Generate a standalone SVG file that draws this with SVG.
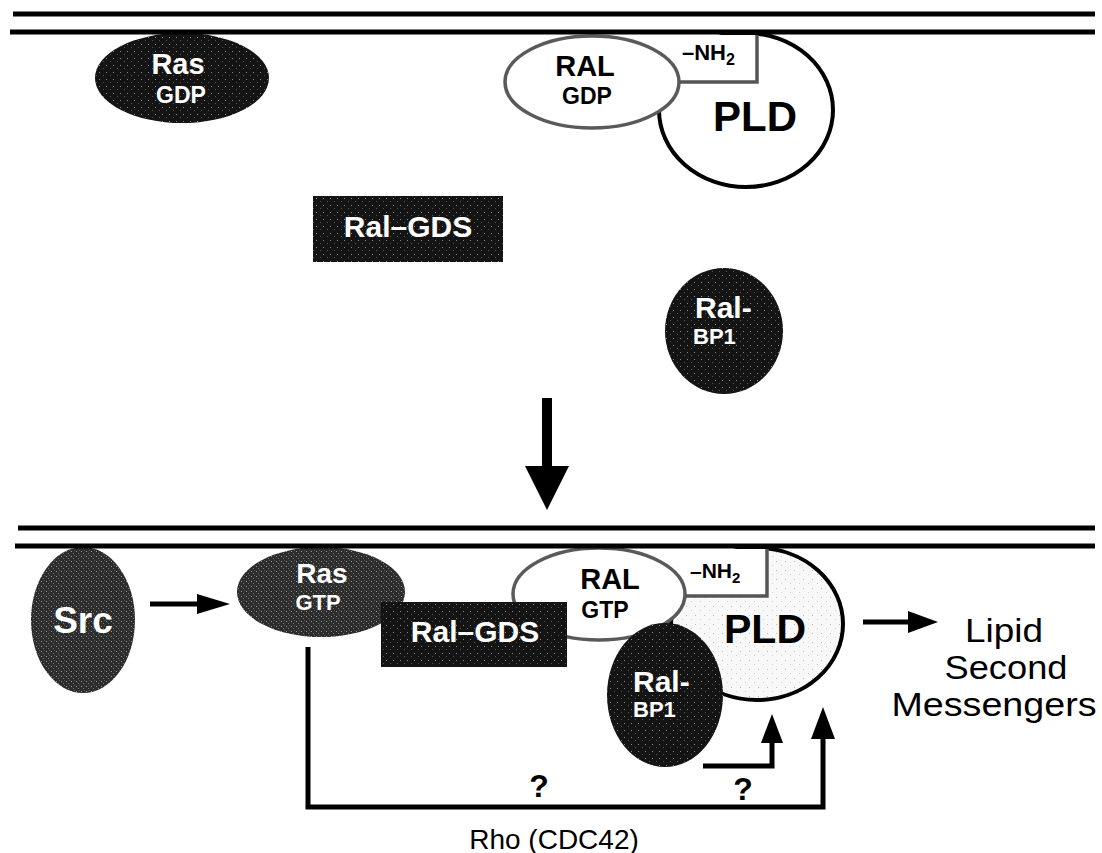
<svg xmlns="http://www.w3.org/2000/svg" width="1102" height="853" viewBox="0 0 1102 853">
<defs>
<pattern id="stipDark" width="7" height="7" patternUnits="userSpaceOnUse"><rect width="7" height="7" fill="#141414"/><rect x="1" y="2" width="1" height="1" fill="#8a8a8a"/><rect x="5" y="5" width="1" height="1" fill="#555"/></pattern>
<pattern id="stipGray" width="5" height="5" patternUnits="userSpaceOnUse"><rect width="5" height="5" fill="#2c2c2c"/><rect x="1" y="1" width="1" height="1" fill="#9a9a9a"/><rect x="3" y="3" width="1" height="1" fill="#777"/><rect x="4" y="0" width="1" height="1" fill="#5a5a5a"/></pattern>
<pattern id="stipLight" width="9" height="9" patternUnits="userSpaceOnUse"><rect width="9" height="9" fill="#f8f8f8"/><rect x="2" y="3" width="1" height="1" fill="#bbb"/><rect x="7" y="7" width="1" height="1" fill="#d0d0d0"/></pattern>
</defs>
<style>
.t{font-family:"Liberation Sans",Arial,sans-serif;font-weight:bold;fill:#fff;text-anchor:middle}
.tl{font-family:"Liberation Sans",Arial,sans-serif;font-weight:bold;fill:#fff}
.b{font-family:"Liberation Sans",Arial,sans-serif;font-weight:bold;fill:#000;text-anchor:middle}
.n{font-family:"Liberation Sans",Arial,sans-serif;fill:#000;text-anchor:middle}
.mem{stroke:#000;stroke-width:5;fill:none}
.ral{fill:#fff;stroke:#5a5a5a;stroke-width:3.5}
.pld{stroke:#000;stroke-width:4}
.ln{stroke:#000;stroke-width:5;fill:none}
.hd{fill:#000}
</style>
<rect width="1102" height="853" fill="#fff"/>

<g id="top-PLD">
<ellipse cx="746" cy="110" rx="87" ry="77" fill="#fff" class="pld"/>
<text class="b" x="755" y="131" font-size="42">PLD</text>
</g>
<g id="top-NH2">
<rect x="670" y="35" width="87" height="47" fill="#fff"/>
<path d="M757,35 V82 H670" fill="none" stroke="#555" stroke-width="3.5"/>
<text class="b" x="682" y="60" font-size="22" style="text-anchor:start">–NH<tspan dy="5" font-size="16">2</tspan></text>
</g>
<g id="top-RAL">
<ellipse cx="592" cy="82" rx="87" ry="46" class="ral"/>
<text class="b" x="585" y="76" font-size="29">RAL</text>
<text class="b" x="587" y="104" font-size="23">GDP</text>
</g>
<g id="top-Ras">
<ellipse cx="182" cy="78" rx="87" ry="45" fill="url(#stipDark)"/>
<text class="t" x="178" y="74" font-size="29">Ras</text>
<text class="t" x="181" y="103" font-size="23">GDP</text>
</g>
<g id="top-RalGDS">
<rect x="313" y="196" width="190" height="66" fill="url(#stipDark)"/>
<text class="t" x="408" y="237" font-size="30">Ral–GDS</text>
</g>
<g id="top-RalBP1">
<ellipse cx="724" cy="331" rx="59" ry="63" fill="url(#stipDark)"/>
<text class="tl" x="695" y="318" font-size="30">Ral-</text>
<text class="tl" x="693" y="344" font-size="22">BP1</text>
</g>

<g id="bot-PLD">
<ellipse cx="757" cy="624" rx="86" ry="76" fill="url(#stipLight)" class="pld"/>
<text class="b" x="765" y="643" font-size="41">PLD</text>
</g>
<g id="bot-NH2">
<rect x="680" y="549" width="87" height="47" fill="#fff"/>
<path d="M767,549 V596 H680" fill="none" stroke="#555" stroke-width="3.5"/>
<text class="b" x="690" y="578" font-size="21" style="text-anchor:start">–NH<tspan dy="5" font-size="15">2</tspan></text>
</g>
<g id="bot-RAL">
<ellipse cx="599" cy="594" rx="86" ry="46" class="ral"/>
<text class="b" x="610" y="589" font-size="29">RAL</text>
<text class="b" x="605" y="618" font-size="23">GTP</text>
</g>
<g id="bot-Ras">
<ellipse cx="321" cy="592" rx="84" ry="45" fill="url(#stipGray)"/>
<text class="t" x="322" y="583" font-size="28">Ras</text>
<text class="t" x="318" y="610" font-size="22">GTP</text>
</g>
<g id="bot-RalGDS">
<rect x="381" y="602" width="186" height="65" fill="url(#stipDark)"/>
<text class="t" x="475" y="642" font-size="30">Ral–GDS</text>
</g>
<g id="bot-RalBP1">
<ellipse cx="665" cy="695" rx="58" ry="72" fill="url(#stipDark)"/>
<text class="tl" x="633" y="692" font-size="30">Ral-</text>
<text class="tl" x="633" y="717" font-size="22">BP1</text>
</g>
<g id="Src">
<ellipse cx="83" cy="620" rx="52" ry="73" fill="url(#stipGray)"/>
<text class="t" x="83" y="633" font-size="37">Src</text>
</g>

<g id="membranes">
<line class="mem" x1="13" y1="14" x2="1095" y2="14"/>
<line class="mem" x1="10" y1="32" x2="1095" y2="32"/>
<line class="mem" x1="18" y1="528" x2="1095" y2="528"/>
<line class="mem" x1="15" y1="546" x2="1095" y2="546"/>
</g>

<g id="connectors">
<line x1="547" y1="398" x2="547" y2="470" stroke="#000" stroke-width="10"/>
<polygon class="hd" points="525,466 569,466 547,510"/>
<line class="ln" x1="150" y1="604" x2="200" y2="604"/>
<polygon class="hd" points="197,594 230,604 197,614"/>
<line class="ln" x1="863" y1="622" x2="910" y2="622"/>
<polygon class="hd" points="908,611 938,622 908,633"/>
<path class="ln" d="M308,647 V807 H823 V736"/>
<polygon class="hd" points="811,739 835,739 823,707"/>
<path class="ln" d="M703,766 H772 V740"/>
<polygon class="hd" points="761,743 783,743 772,714"/>
</g>

<g id="labels">
<text class="b" x="539" y="797" font-size="32">?</text>
<text class="b" x="743" y="800" font-size="32">?</text>
<text class="n" x="554" y="849" font-size="28">Rho (CDC42)</text>
<text class="n" x="1004" y="642" font-size="33" textLength="78" lengthAdjust="spacingAndGlyphs">Lipid</text>
<text class="n" x="1006" y="679" font-size="33" textLength="123" lengthAdjust="spacingAndGlyphs">Second</text>
<text class="n" x="994" y="716" font-size="33" textLength="205" lengthAdjust="spacingAndGlyphs">Messengers</text>
</g>
</svg>
